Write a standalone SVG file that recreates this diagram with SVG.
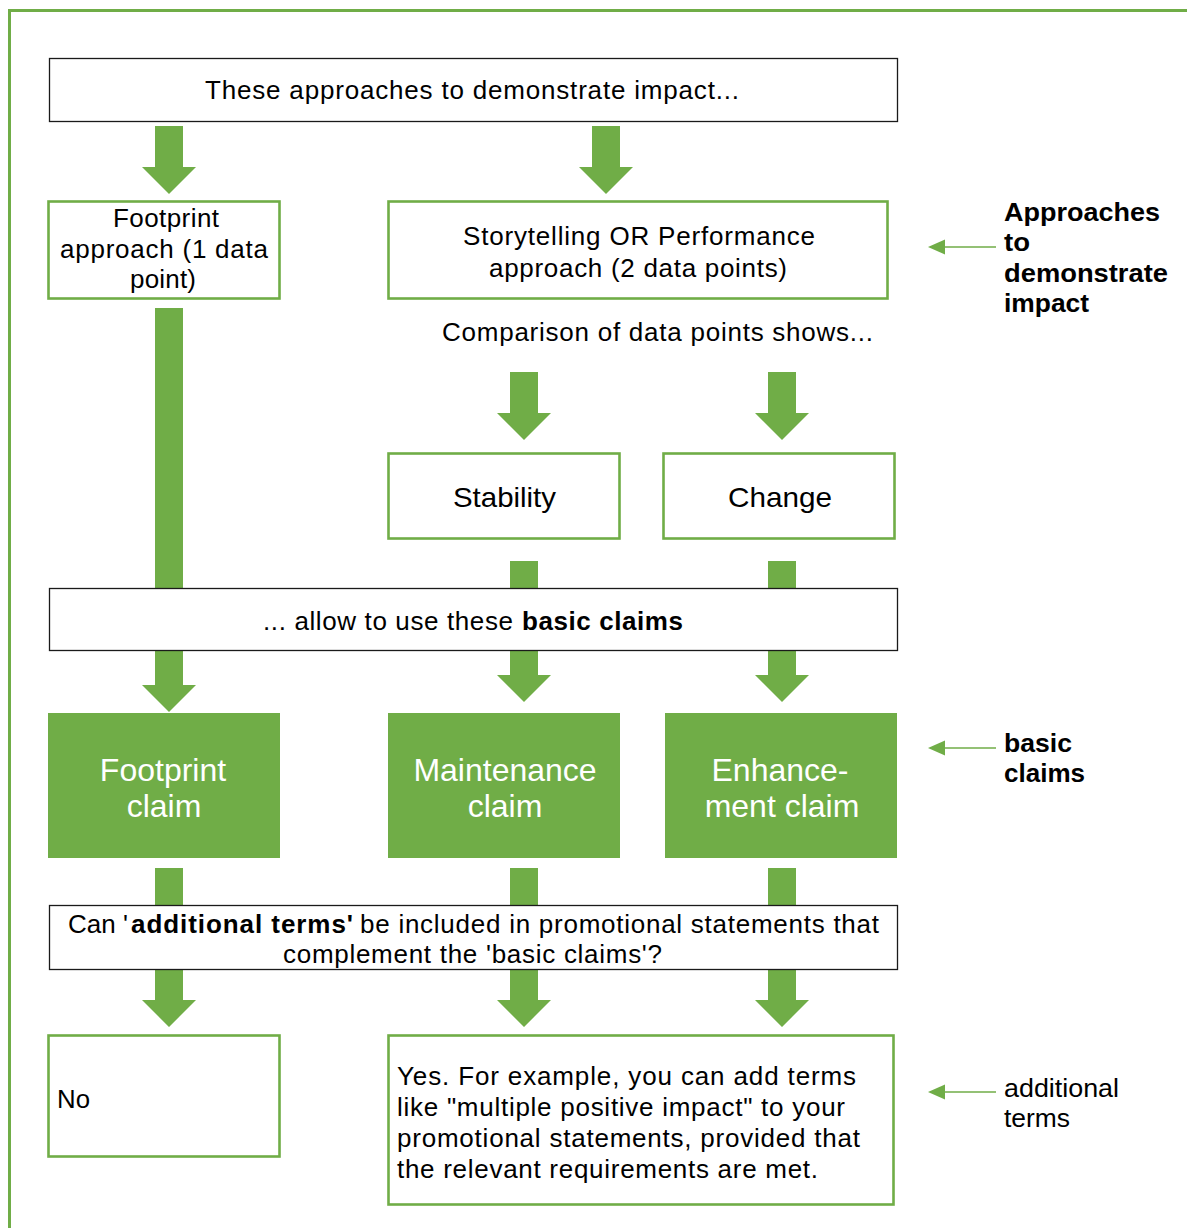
<svg xmlns="http://www.w3.org/2000/svg" width="1187" height="1228" viewBox="0 0 1187 1228">
  <style>
    text { font-family: "Liberation Sans", Arial, sans-serif; fill: #000; }
    .t25 { font-size: 26px; }
    .t28 { font-size: 28px; }
    .claim { font-size: 32px; fill: #fff; text-anchor: middle; }
    .b { font-weight: bold; }
    .plain { fill: #fff; stroke: #1a1a1a; stroke-width: 1.3; }
    .gbox { fill: #fff; stroke: #70AD47; stroke-width: 2.6; }
    .gfill { fill: #70AD47; }
    .frame { fill: none; stroke: #70AD47; stroke-width: 3; }
    .note { stroke: #70AD47; stroke-width: 1.6; fill: none; }
  </style>
  <defs>
    <!-- block arrow pointing down, origin at top-centre of shaft, length 68 -->
    <path id="arrowDown" d="M-14,0 H14 V41 H27 L0,68 L-27,41 H-14 Z" fill="#70AD47"/>
    <!-- small left-pointing head for the side notes, tip at origin -->
    <path id="noteTip" d="M0,0 L17,-7.5 L17,7.5 Z" fill="#70AD47"/>
  </defs>

  <rect class="frame" x="9.5" y="10.5" width="1200" height="1240"/>

  <!-- connectors -->
  <g id="connectors">
    <use href="#arrowDown" x="169" y="126"/>
    <use href="#arrowDown" x="606" y="126"/>
    <rect class="gfill" x="155" y="308" width="28" height="281"/>
    <use href="#arrowDown" x="524" y="372"/>
    <use href="#arrowDown" x="782" y="372"/>
    <rect class="gfill" x="510" y="561" width="28" height="28"/>
    <rect class="gfill" x="768" y="561" width="28" height="28"/>
    <path d="M155,650 H183 V685 H196 L169,712 L142,685 H155 Z" fill="#70AD47"/>
    <path d="M510,650 H538 V675 H551 L524,702 L497,675 H510 Z" fill="#70AD47"/>
    <path d="M768,650 H796 V675 H809 L782,702 L755,675 H768 Z" fill="#70AD47"/>
    <rect class="gfill" x="155" y="868" width="28" height="38"/>
    <rect class="gfill" x="510" y="868" width="28" height="38"/>
    <rect class="gfill" x="768" y="868" width="28" height="38"/>
    <path d="M155,969 H183 V1000 H196 L169,1027 L142,1000 H155 Z" fill="#70AD47"/>
    <path d="M510,969 H538 V1000 H551 L524,1027 L497,1000 H510 Z" fill="#70AD47"/>
    <path d="M768,969 H796 V1000 H809 L782,1027 L755,1000 H768 Z" fill="#70AD47"/>
    <line class="note" x1="996" y1="247" x2="940" y2="247"/>
    <use href="#noteTip" x="928" y="247"/>
    <line class="note" x1="996" y1="748" x2="940" y2="748"/>
    <use href="#noteTip" x="928" y="748"/>
    <line class="note" x1="996" y1="1092" x2="940" y2="1092"/>
    <use href="#noteTip" x="928" y="1092"/>
  </g>

  <g id="approaches-intro">
    <rect class="plain" x="49.5" y="58.5" width="848" height="63"/>
    <text class="t25" x="205" y="99" textLength="534" lengthAdjust="spacing">These approaches to demonstrate impact...</text>
  </g>

  <g id="footprint-approach">
    <rect class="gbox" x="48.5" y="201.5" width="231" height="97"/>
    <text class="t25" x="113" y="227" textLength="106" lengthAdjust="spacing">Footprint</text>
    <text class="t25" x="60" y="258" textLength="208" lengthAdjust="spacing">approach (1 data</text>
    <text class="t25" x="130" y="288" textLength="66" lengthAdjust="spacing">point)</text>
  </g>

  <g id="storytelling-approach">
    <rect class="gbox" x="388.5" y="201.5" width="499" height="97"/>
    <text class="t25" x="463" y="245" textLength="352" lengthAdjust="spacing">Storytelling OR Performance</text>
    <text class="t25" x="489" y="277" textLength="298" lengthAdjust="spacing">approach (2 data points)</text>
  </g>

  <g id="comparison-label">
    <text class="t25" x="442" y="341" textLength="431" lengthAdjust="spacing">Comparison of data points shows...</text>
  </g>

  <g id="stability">
    <rect class="gbox" x="388.5" y="453.5" width="231" height="85"/>
    <text class="t28" x="453" y="507" textLength="103" lengthAdjust="spacingAndGlyphs">Stability</text>
  </g>

  <g id="change">
    <rect class="gbox" x="663.5" y="453.5" width="231" height="85"/>
    <text class="t28" x="728" y="507" textLength="104" lengthAdjust="spacingAndGlyphs">Change</text>
  </g>

  <g id="basic-claims-intro">
    <rect class="plain" x="49.5" y="588.5" width="848" height="62"/>
    <text class="t25" y="630"><tspan x="263" textLength="250" lengthAdjust="spacing">... allow to use these</tspan><tspan class="b" x="522" textLength="161" lengthAdjust="spacing">basic claims</tspan></text>
  </g>

  <g id="footprint-claim">
    <rect class="gfill" x="48" y="713" width="232" height="145"/>
    <text class="claim" x="163" y="781">Footprint</text>
    <text class="claim" x="164" y="817">claim</text>
  </g>

  <g id="maintenance-claim">
    <rect class="gfill" x="388" y="713" width="232" height="145"/>
    <text class="claim" x="505" y="781">Maintenance</text>
    <text class="claim" x="505" y="817">claim</text>
  </g>

  <g id="enhancement-claim">
    <rect class="gfill" x="665" y="713" width="232" height="145"/>
    <text class="claim" x="780" y="781">Enhance-</text>
    <text class="claim" x="782" y="817">ment claim</text>
  </g>

  <g id="additional-terms-question">
    <rect class="plain" x="49.5" y="905.5" width="848" height="64"/>
    <text class="t25" y="933"><tspan x="68" textLength="60" lengthAdjust="spacing">Can '</tspan><tspan class="b" x="131" textLength="222" lengthAdjust="spacing">additional terms'</tspan><tspan x="360" textLength="519" lengthAdjust="spacing">be included in promotional statements that</tspan></text>
    <text class="t25" x="283" y="963" textLength="379" lengthAdjust="spacing">complement the 'basic claims'?</text>
  </g>

  <g id="answer-no">
    <rect class="gbox" x="48.5" y="1035.5" width="231" height="121"/>
    <text class="t25" x="57" y="1108" textLength="33" lengthAdjust="spacingAndGlyphs">No</text>
  </g>

  <g id="answer-yes">
    <rect class="gbox" x="388.5" y="1035.5" width="505" height="169"/>
    <text class="t25" x="397" y="1085" textLength="459" lengthAdjust="spacing">Yes. For example,  you can add terms</text>
    <text class="t25" x="397" y="1116" textLength="448" lengthAdjust="spacing">like "multiple positive impact" to your</text>
    <text class="t25" x="397" y="1147" textLength="463" lengthAdjust="spacing">promotional statements, provided that</text>
    <text class="t25" x="397" y="1178" textLength="421" lengthAdjust="spacing">the relevant requirements are met.</text>
  </g>

  <g id="legend-approaches">
    <text class="t25 b" x="1004" y="221" textLength="156" lengthAdjust="spacingAndGlyphs">Approaches</text>
    <text class="t25 b" x="1004" y="251" textLength="26" lengthAdjust="spacingAndGlyphs">to</text>
    <text class="t25 b" x="1004" y="282" textLength="164" lengthAdjust="spacingAndGlyphs">demonstrate</text>
    <text class="t25 b" x="1004" y="312" textLength="85" lengthAdjust="spacingAndGlyphs">impact</text>
  </g>

  <g id="legend-basic-claims">
    <text class="t25 b" x="1004" y="752" textLength="68" lengthAdjust="spacingAndGlyphs">basic</text>
    <text class="t25 b" x="1004" y="782" textLength="81" lengthAdjust="spacingAndGlyphs">claims</text>
  </g>

  <g id="legend-additional-terms">
    <text class="t25" x="1004" y="1097" textLength="115" lengthAdjust="spacingAndGlyphs">additional</text>
    <text class="t25" x="1004" y="1127" textLength="66" lengthAdjust="spacingAndGlyphs">terms</text>
  </g>
</svg>
